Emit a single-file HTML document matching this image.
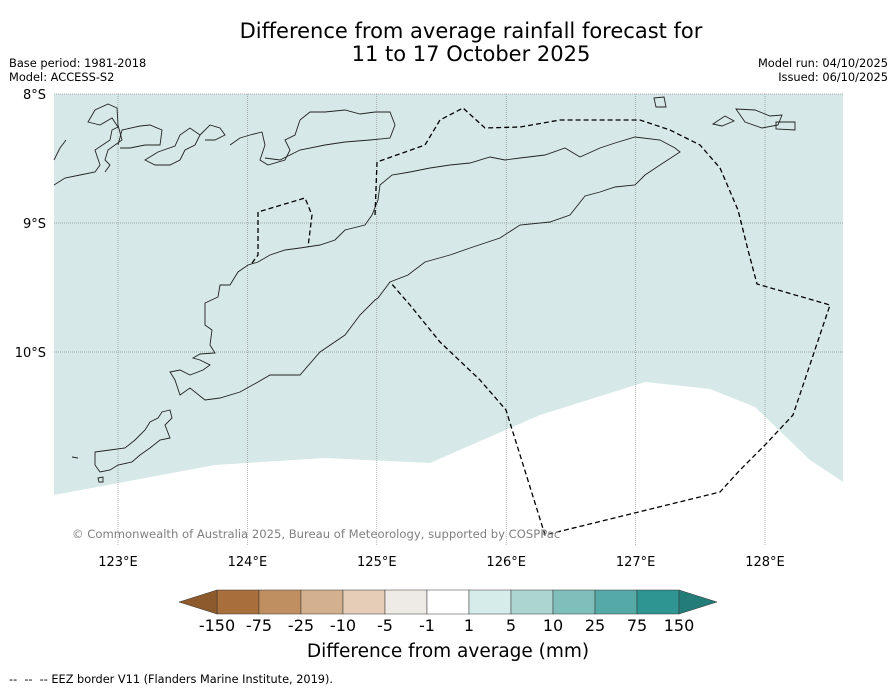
<!DOCTYPE html>
<html><head><meta charset="utf-8"><style>
body{margin:0;background:#fff;font-family:"Liberation Sans","DejaVu Sans",sans-serif}
#wrap{position:relative;width:896px;height:690px;overflow:hidden}
.t{position:absolute;white-space:nowrap;color:#000}
</style></head><body>
<div id="wrap">
<div class="t" style="left:0;width:942px;top:20px;text-align:center;font-size:21px;line-height:23px;font-family:'DejaVu Sans',sans-serif">Difference from average rainfall forecast for<br>11 to 17 October 2025</div>
<div class="t" style="left:9px;top:56px;font-size:11.4px;line-height:14px;font-family:'DejaVu Sans',sans-serif">Base period: 1981-2018<br>Model: ACCESS-S2</div>
<div class="t" style="right:8px;top:56px;font-size:11.4px;line-height:14px;text-align:right;font-family:'DejaVu Sans',sans-serif">Model run: 04/10/2025<br>Issued: 06/10/2025</div>
<svg id="map" width="896" height="690" style="position:absolute;left:0;top:0" font-family="DejaVu Sans, sans-serif">
<polygon fill="#d6e9e8" points="54,94 843,94 843,482 810,460 755,407 710,389 645,382 540,415 430,463 325,458 215,465 54,495"/>
<g id="grid"></g>
<g fill="none" stroke="#222" stroke-width="0.9">
<path d="M193,358 L200,354 L215,353 L210,345 L212,330 L205,325 L205,303 L218,297 L220,285 L230,285 L238,272 L248,265 L258,262 L270,255 L285,250 L300,248 L320,245 L335,240 L345,230 L365,225 L372,215 L378,200 L380,185 L392,175 L410,172 L430,168 L450,165 L470,163 L490,157 L505,160 L520,158 L545,155 L565,148 L580,157 L600,148 L615,143 L635,137 L660,140 L675,148 L680,152 L660,165 L645,175 L635,185 L615,187 L600,192 L585,196 L570,215 L550,222 L520,225 L500,238 L470,248 L450,255 L425,262 L408,275 L390,282 L378,298 L375,300 L360,315 L345,335 L320,352 L300,375 L270,375 L258,382 L240,392 L220,398 L205,400 L190,388 L180,395 L175,380 L170,372 L180,370 L190,375 L203,370 L210,365 L200,360 Z"/>
<path d="M54,185 L65,178 L80,175 L95,172 L100,165 L95,150 L110,140 L112,130 L118,127 L112,118 L100,125 L88,122 L95,110 L108,104 L117,108 L118,125 L122,140 L108,150 L105,160 L110,165 L105,172"/>
<path d="M120,148 L130,148 L145,145 L160,145 L162,130 L150,125 L140,126 L122,130 L118,145"/>
<path d="M145,160 L158,152 L175,146 L180,135 L190,128 L200,135 L195,145 L185,150 L180,160 L170,165 L155,165 Z"/>
<path d="M200,135 L210,125 L220,128 L225,135 L215,140 L205,140"/>
<path d="M230,145 L240,138 L250,135 L262,132 L265,145 L260,160 L268,165 L285,160 L290,150 L285,140 L295,135 L300,120 L310,112 L325,112 L345,110 L360,114 L375,112 L390,112 L395,125 L390,138 L370,140 L345,142 L325,145 L300,150 L290,155 L280,160 L265,158"/>
<path d="M54,160 L60,148 L66,140"/>
<path d="M95,452 L110,450 L125,448 L135,440 L145,430 L150,422 L158,418 L162,412 L170,410 L172,418 L165,425 L170,438 L160,440 L150,448 L140,455 L132,462 L118,465 L110,470 L100,472 L95,465 Z"/>
<path d="M98,478 L103,477 L103,482 L99,482 Z"/>
<path d="M72,457 L78,458"/>
<path d="M654,98 L664,97 L666,107 L656,107 Z"/>
<path d="M713,124 L725,116 L734,121 L722,126 Z"/>
<path d="M736,109 L755,110 L770,116 L782,115 L778,125 L762,128 L745,122 Z"/>
<path d="M776,122 L795,122 L795,130 L776,129 Z"/>
</g>
<g fill="none" stroke="#000" stroke-width="1.3" stroke-dasharray="5,3">
<path d="M375,215 L377,162 L425,145 L440,120 L463,108 L485,128 L520,127 L560,120 L640,120 L670,130 L700,145 L720,168 L738,210 L748,250 L757,284 L830,305 L793,415 L765,445 L740,470 L720,492 L545,535 L506,410 L480,380 L440,342 L410,305 L390,282"/>
<path d="M252,263 L258,255 L258,212 L305,198 L312,215 L308,247"/>
</g>
<text x="72" y="538" font-size="11.6" fill="#808080">© Commonwealth of Australia 2025, Bureau of Meteorology, supported by COSPPac</text>
<g id="cbar"></g>
<text x="448" y="657" font-size="18.5" text-anchor="middle">Difference from average (mm)</text>
<text x="9" y="683" font-size="11.3" xml:space="preserve" style="white-space:pre">--  --  -- EEZ border V11 (Flanders Marine Institute, 2019).</text>
</svg>
</div>
<script>
const lonTicks=[123,124,125,126,127,128];
const latTicks=[8,9,10];
const cbLabels=["-150","-75","-25","-10","-5","-1","1","5","10","25","75","150"];
const cbColors=["#a86f3c","#bf8f62","#d3b08e","#e5cdb7","#eeeae6","#ffffff","#d6ecea","#acd4d1","#7fbfbb","#55a9a6","#2f9592"];
const endColors=["#8c5a2c","#247c79"];
const NS="http://www.w3.org/2000/svg";
function lonX(l){return 118+(l-123)*129.4;}
function latY(l){return 94+(l-8)*129;}
function mk(t,a,p){const e=document.createElementNS(NS,t);for(const k in a)e.setAttribute(k,a[k]);p.appendChild(e);return e;}
const g=document.getElementById('grid');
lonTicks.forEach(l=>{const x=lonX(l);
const ln=mk('line',{x1:x,y1:94,x2:x,y2:545,stroke:'#888','stroke-width':0.6,'stroke-dasharray':'1,1'},g);


const t=mk('text',{x:x,y:566,'font-size':13,'text-anchor':'middle'},g);t.textContent=l+'°E';

});
latTicks.forEach(l=>{const y=latY(l);
const ln=mk('line',{x1:54,y1:y,x2:843,y2:y,stroke:'#666','stroke-width':0.6,'stroke-dasharray':'1,1'},g);


const t=mk('text',{x:46,y:y+5,'font-size':13,'text-anchor':'end'},g);t.textContent=l+'°S';

});
const c=document.getElementById('cbar');
const x0=217,w=42,y0=590,h=24;
cbColors.forEach((col,i)=>{const r=mk('rect',{x:x0+i*w,y:y0,width:w,height:h,fill:col,stroke:'#333','stroke-width':0.5},c);

});
const lt=mk('polygon',{points:`${x0},${y0} ${x0-38},${y0+h/2} ${x0},${y0+h}`,fill:endColors[0],stroke:'#333','stroke-width':0.5},c);


const xe=x0+cbColors.length*w;
const rt=mk('polygon',{points:`${xe},${y0} ${xe+38},${y0+h/2} ${xe},${y0+h}`,fill:endColors[1],stroke:'#333','stroke-width':0.5},c);


cbLabels.forEach((s,i)=>{const t=mk('text',{x:x0+i*w,y:631,'font-size':16,'text-anchor':'middle'},c);t.textContent=s;

});
</script>
</body></html>
